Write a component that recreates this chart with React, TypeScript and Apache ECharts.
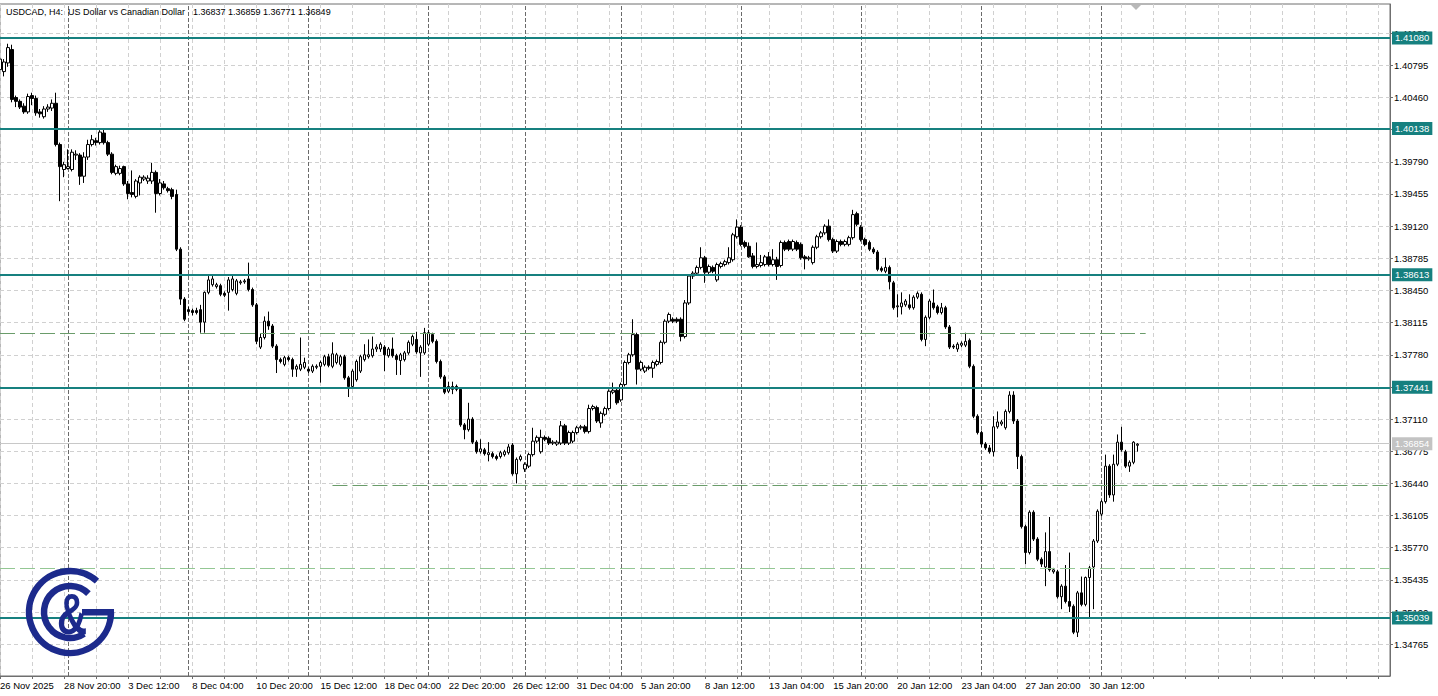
import React, { useEffect, useRef } from 'react';
import * as echarts from 'echarts';

const FONT = "'Liberation Sans', Arial, sans-serif";
const NAVY = '#1c2a8c';
const TEAL = '#16807f';

const timeLabels = [
  '26 Nov 2025', '28 Nov 20:00', '3 Dec 12:00', '8 Dec 04:00', '10 Dec 20:00', '15 Dec 12:00',
  '18 Dec 04:00', '22 Dec 20:00', '26 Dec 12:00', '31 Dec 04:00', '5 Jan 20:00', '8 Jan 12:00',
  '13 Jan 04:00', '15 Jan 20:00', '20 Jan 12:00', '23 Jan 04:00', '27 Jan 20:00', '30 Jan 12:00',
];
const barCount = 348;

const opens = [
  1.4075,1.4073,1.4082,1.4096,1.4046,1.4042,1.4037,1.4031,1.4048,1.4045,
  1.4031,1.4026,1.4034,1.4035,1.4040,1.3997,1.3971,1.3972,1.3971,1.3986,
  1.3986,1.3964,1.3984,1.3997,1.4001,1.3999,1.4009,1.3999,1.3987,1.3967,
  1.3967,1.3974,1.3956,1.3947,1.3943,1.3957,1.3961,1.3959,1.3959,1.3968,
  1.3946,1.3956,1.3951,1.3950,1.3945,1.3888,1.3836,1.3825,1.3824,1.3824,
  1.3825,1.3812,1.3843,1.3851,1.3849,1.3850,1.3842,1.3843,1.3846,1.3842,
  1.3853,1.3854,1.3857,1.3846,1.3830,1.3786,1.3796,1.3813,1.3808,1.3787,
  1.3773,1.3768,1.3775,1.3773,1.3763,1.3763,1.3765,1.3763,1.3761,1.3765,
  1.3766,1.3768,1.3776,1.3766,1.3770,1.3768,1.3776,1.3754,1.3745,1.3752,
  1.3761,1.3773,1.3776,1.3777,1.3784,1.3784,1.3786,1.3777,1.3784,1.3777,
  1.3772,1.3773,1.3780,1.3789,1.3794,1.3780,1.3780,1.3789,1.3799,1.3792,
  1.3771,1.3755,1.3740,1.3742,1.3745,1.3742,1.3705,1.3700,1.3711,1.3687,
  1.3677,1.3679,1.3674,1.3675,1.3672,1.3672,1.3674,1.3676,1.3684,1.3654,
  1.3669,1.3659,1.3662,1.3674,1.3688,1.3677,1.3692,1.3691,1.3686,1.3685,
  1.3686,1.3704,1.3686,1.3688,1.3697,1.3702,1.3703,1.3698,1.3722,1.3723,
  1.3707,1.3716,1.3722,1.3739,1.3741,1.3731,1.3747,1.3770,1.3778,1.3799,
  1.3763,1.3761,1.3765,1.3764,1.3768,1.3770,1.3791,1.3813,1.3815,1.3815,
  1.3815,1.3797,1.3832,1.3860,1.3863,1.3869,1.3879,1.3864,1.3869,1.3856,
  1.3870,1.3872,1.3874,1.3877,1.3901,1.3911,1.3895,1.3891,1.3881,1.3870,
  1.3871,1.3872,1.3880,1.3872,1.3877,1.3871,1.3895,1.3896,1.3888,1.3895,
  1.3893,1.3880,1.3878,1.3874,1.3890,1.3901,1.3905,1.3912,1.3898,1.3886,
  1.3896,1.3893,1.3893,1.3900,1.3925,1.3911,1.3898,1.3895,1.3888,1.3885,
  1.3868,1.3865,1.3869,1.3853,1.3828,1.3828,1.3830,1.3830,1.3827,1.3838,
  1.3841,1.3794,1.3817,1.3832,1.3828,1.3822,1.3827,1.3807,1.3787,1.3784,
  1.3788,1.3788,1.3793,1.3766,1.3714,1.3697,1.3685,1.3681,1.3677,1.3703,
  1.3706,1.3702,1.3719,1.3736,1.3709,1.3672,1.3599,1.3572,1.3614,1.3586,
  1.3565,1.3557,1.3573,1.3552,1.3552,1.3526,1.3537,1.3521,1.3516,1.3489,
  1.3530,1.3518,1.3546,1.3557,1.3584,1.3612,1.3625,1.3662,1.3632,1.3664,
  1.3687,1.3677,1.3662,1.3666,1.36837,
];

const closes = [
  1.4086,1.4083,1.4098,1.4044,1.4042,1.4036,1.4031,1.4047,1.4045,1.4030,
  1.4029,1.4034,1.4036,1.4040,1.3997,1.3974,1.3976,1.3974,1.3989,1.3987,
  1.3964,1.3984,1.3997,1.4002,1.3999,1.4010,1.3999,1.3987,1.3968,1.3974,
  1.3972,1.3956,1.3946,1.3945,1.3959,1.3963,1.3963,1.3962,1.3968,1.3946,
  1.3957,1.3952,1.3949,1.3943,1.3888,1.3836,1.3815,1.3823,1.3822,1.3822,
  1.3812,1.3843,1.3856,1.3857,1.3851,1.3841,1.3840,1.3856,1.3857,1.3855,
  1.3854,1.3855,1.3846,1.3830,1.3792,1.3796,1.3813,1.3808,1.3787,1.3773,
  1.3771,1.3775,1.3773,1.3763,1.3766,1.3768,1.3770,1.3761,1.3766,1.3766,
  1.3770,1.3776,1.3767,1.3779,1.3778,1.3776,1.3754,1.3745,1.3761,1.3771,
  1.3776,1.3778,1.3778,1.3784,1.3786,1.3789,1.3778,1.3784,1.3777,1.3773,
  1.3778,1.3780,1.3791,1.3797,1.3781,1.3786,1.3801,1.3801,1.3792,1.3771,
  1.3755,1.3739,1.3745,1.3745,1.3742,1.3705,1.3700,1.3711,1.3687,1.3677,
  1.3680,1.3675,1.3676,1.3672,1.3670,1.3676,1.3677,1.3682,1.3654,1.3669,
  1.3672,1.3664,1.3674,1.3688,1.3692,1.3692,1.3690,1.3686,1.3687,1.3687,
  1.3704,1.3686,1.3697,1.3697,1.3702,1.3703,1.3698,1.3722,1.3724,1.3709,
  1.3717,1.3722,1.3740,1.3741,1.3728,1.3747,1.3770,1.3778,1.3799,1.3763,
  1.3770,1.3765,1.3764,1.3770,1.3771,1.3791,1.3813,1.3820,1.3813,1.3813,
  1.3797,1.3832,1.3860,1.3863,1.3869,1.3879,1.3864,1.3870,1.3865,1.3872,
  1.3873,1.3875,1.3879,1.3903,1.3911,1.3893,1.3891,1.3880,1.3870,1.3872,
  1.3874,1.3880,1.3872,1.3877,1.3870,1.3895,1.3888,1.3888,1.3896,1.3888,
  1.3879,1.3878,1.3879,1.3890,1.3901,1.3905,1.3912,1.3898,1.3886,1.3896,
  1.3893,1.3896,1.3900,1.3924,1.3914,1.3898,1.3893,1.3888,1.3885,1.3867,
  1.3866,1.3869,1.3854,1.3827,1.3829,1.3832,1.3834,1.3827,1.3838,1.3842,
  1.3794,1.3817,1.3834,1.3827,1.3822,1.3827,1.3807,1.3786,1.3786,1.3789,
  1.3790,1.3792,1.3766,1.3714,1.3697,1.3685,1.3681,1.3677,1.3703,1.3708,
  1.3708,1.3719,1.3736,1.3709,1.3672,1.3599,1.3572,1.3614,1.3586,1.3565,
  1.3560,1.3573,1.3554,1.3554,1.3526,1.3537,1.3521,1.3516,1.3489,1.3530,
  1.3518,1.3546,1.3556,1.3584,1.3615,1.3625,1.3662,1.3632,1.3664,1.3687,
  1.3679,1.3662,1.3666,1.3687,1.36849,
];

const lows = [
  1.4070,1.4068,1.4078,1.4041,1.4036,1.4034,1.4029,1.4029,1.4038,1.4027,
  1.4025,1.4024,1.4031,1.4032,1.3995,1.3938,1.3963,1.3971,1.3969,1.3981,
  1.3955,1.3957,1.3981,1.3995,1.3996,1.3997,1.3997,1.3985,1.3966,1.3965,
  1.3965,1.3954,1.3940,1.3942,1.3941,1.3944,1.3959,1.3956,1.3956,1.3926,
  1.3944,1.3950,1.3947,1.3940,1.3886,1.3830,1.3813,1.3820,1.3819,1.3820,
  1.3801,1.3801,1.3841,1.3849,1.3847,1.3839,1.3838,1.3824,1.3844,1.3840,
  1.3851,1.3852,1.3844,1.3828,1.3789,1.3784,1.3794,1.3804,1.3785,1.3759,
  1.3769,1.3766,1.3771,1.3755,1.3755,1.3761,1.3763,1.3759,1.3759,1.3763,
  1.3749,1.3766,1.3765,1.3764,1.3768,1.3766,1.3752,1.3734,1.3743,1.3750,
  1.3759,1.3771,1.3774,1.3775,1.3781,1.3781,1.3761,1.3775,1.3775,1.3757,
  1.3757,1.3771,1.3778,1.3787,1.3779,1.3755,1.3778,1.3787,1.3790,1.3769,
  1.3753,1.3737,1.3738,1.3737,1.3740,1.3703,1.3690,1.3698,1.3685,1.3675,
  1.3675,1.3673,1.3667,1.3670,1.3668,1.3670,1.3672,1.3674,1.3652,1.3644,
  1.3667,1.3656,1.3660,1.3672,1.3686,1.3675,1.3688,1.3684,1.3684,1.3683,
  1.3684,1.3684,1.3684,1.3686,1.3695,1.3700,1.3696,1.3696,1.3720,1.3707,
  1.3702,1.3714,1.3720,1.3737,1.3726,1.3729,1.3745,1.3768,1.3776,1.3747,
  1.3761,1.3759,1.3762,1.3754,1.3766,1.3768,1.3789,1.3811,1.3811,1.3811,
  1.3792,1.3795,1.3830,1.3857,1.3861,1.3867,1.3853,1.3862,1.3863,1.3854,
  1.3868,1.3870,1.3872,1.3875,1.3899,1.3891,1.3889,1.3879,1.3868,1.3868,
  1.3869,1.3870,1.3870,1.3870,1.3856,1.3869,1.3886,1.3886,1.3886,1.3886,
  1.3877,1.3867,1.3876,1.3872,1.3888,1.3899,1.3903,1.3896,1.3884,1.3884,
  1.3891,1.3891,1.3891,1.3898,1.3912,1.3896,1.3891,1.3886,1.3883,1.3865,
  1.3864,1.3863,1.3846,1.3825,1.3817,1.3820,1.3828,1.3825,1.3825,1.3836,
  1.3792,1.3787,1.3815,1.3825,1.3820,1.3820,1.3805,1.3784,1.3784,1.3781,
  1.3786,1.3786,1.3764,1.3712,1.3695,1.3682,1.3679,1.3675,1.3672,1.3701,
  1.3704,1.3700,1.3717,1.3706,1.3659,1.3597,1.3560,1.3570,1.3584,1.3563,
  1.3557,1.3537,1.3552,1.3550,1.3524,1.3513,1.3519,1.3510,1.3487,1.3484,
  1.3516,1.3516,1.3504,1.3513,1.3582,1.3610,1.3623,1.3629,1.3625,1.3662,
  1.3677,1.3660,1.3656,1.3664,1.36771,
];

const highs = [
  1.4090,1.4086,1.4102,1.4101,1.4048,1.4044,1.4040,1.4050,1.4051,1.4048,
  1.4034,1.4037,1.4039,1.4044,1.4051,1.3999,1.3979,1.3992,1.3992,1.3991,
  1.3988,1.3989,1.4002,1.4007,1.4004,1.4012,1.4014,1.4001,1.3989,1.3976,
  1.3975,1.3975,1.3959,1.3970,1.3961,1.3965,1.3965,1.3965,1.3978,1.3970,
  1.3961,1.3959,1.3953,1.3952,1.3950,1.3890,1.3838,1.3828,1.3826,1.3827,
  1.3830,1.3844,1.3860,1.3860,1.3853,1.3852,1.3844,1.3859,1.3860,1.3857,
  1.3856,1.3857,1.3874,1.3848,1.3832,1.3800,1.3818,1.3823,1.3810,1.3789,
  1.3775,1.3777,1.3777,1.3775,1.3768,1.3796,1.3775,1.3765,1.3768,1.3768,
  1.3772,1.3778,1.3779,1.3791,1.3780,1.3778,1.3778,1.3756,1.3763,1.3773,
  1.3778,1.3789,1.3794,1.3797,1.3789,1.3791,1.3788,1.3786,1.3796,1.3779,
  1.3780,1.3782,1.3793,1.3799,1.3802,1.3788,1.3806,1.3804,1.3801,1.3794,
  1.3773,1.3757,1.3750,1.3750,1.3747,1.3744,1.3707,1.3728,1.3713,1.3689,
  1.3690,1.3681,1.3687,1.3677,1.3674,1.3678,1.3679,1.3685,1.3686,1.3671,
  1.3674,1.3666,1.3676,1.3702,1.3694,1.3700,1.3694,1.3693,1.3689,1.3689,
  1.3709,1.3706,1.3699,1.3699,1.3704,1.3705,1.3705,1.3726,1.3726,1.3725,
  1.3719,1.3724,1.3742,1.3749,1.3743,1.3749,1.3772,1.3780,1.3815,1.3801,
  1.3772,1.3767,1.3767,1.3772,1.3773,1.3793,1.3815,1.3822,1.3817,1.3817,
  1.3817,1.3835,1.3862,1.3865,1.3871,1.3890,1.3881,1.3872,1.3871,1.3874,
  1.3875,1.3877,1.3890,1.3905,1.3919,1.3913,1.3897,1.3895,1.3884,1.3895,
  1.3882,1.3882,1.3885,1.3888,1.3880,1.3897,1.3897,1.3898,1.3898,1.3897,
  1.3895,1.3882,1.3881,1.3892,1.3903,1.3907,1.3914,1.3919,1.3900,1.3898,
  1.3898,1.3898,1.3902,1.3929,1.3927,1.3913,1.3900,1.3897,1.3890,1.3887,
  1.3870,1.3879,1.3871,1.3855,1.3841,1.3843,1.3836,1.3841,1.3840,1.3844,
  1.3843,1.3819,1.3836,1.3846,1.3830,1.3832,1.3829,1.3809,1.3789,1.3791,
  1.3792,1.3801,1.3795,1.3768,1.3716,1.3699,1.3687,1.3684,1.3714,1.3719,
  1.3710,1.3721,1.3740,1.3740,1.3711,1.3674,1.3601,1.3616,1.3616,1.3588,
  1.3567,1.3593,1.3609,1.3556,1.3554,1.3539,1.3559,1.3572,1.3518,1.3532,
  1.3547,1.3547,1.3558,1.3586,1.3617,1.3627,1.3674,1.3664,1.3674,1.3695,
  1.3703,1.3679,1.3668,1.3688,1.36859,
];

const priceTicks = [
  1.34765, 1.351, 1.35435, 1.3577, 1.36105, 1.3644, 1.36775, 1.3711, 1.37445, 1.3778,
  1.38115, 1.3845, 1.38785, 1.3912, 1.39455, 1.3979, 1.40125, 1.4046, 1.40795, 1.4113,
];
const levelPrices = [1.4108, 1.40138, 1.38613, 1.37441, 1.35039];
const bidPrice = 1.36854;
const weekStartBars = [17, 47, 77, 107, 131, 155, 185, 215, 245, 275];
const zonePrices = [1.38007, 1.36424, 1.35559];
const zoneStartBars = [0, 83, 0];
const zoneEndBars = [286, 347, 347];
const zoneColors = ['#6a9c6a', '#6a9c6a', '#94c794'];

export default function App() {
  const ref = useRef<HTMLDivElement>(null);

  useEffect(() => {
    document.body.style.margin = '0';
    document.body.style.background = '#ffffff';
    const chart = echarts.init(ref.current as HTMLDivElement, null, { renderer: 'svg' });
    const categories = Array.from({ length: barCount }, (_, i) => String(i));
    const candles = opens.map((o, i) => [o, closes[i], lows[i], highs[i]]);

    const boxLabel = (text: string, bg: string) => ({
      show: true,
      position: 'end',
      distance: 2,
      formatter: text,
      backgroundColor: bg,
      color: '#ffffff',
      padding: [2, 3, 1, 3],
      fontSize: 9.5,
      fontFamily: FONT,
    });

    const gridLines: any[] = [];
    priceTicks.forEach((p) =>
      gridLines.push({ yAxis: p, lineStyle: { color: '#d0d0d0', type: [4, 3], width: 1 } })
    );
    weekStartBars.forEach((b) =>
      gridLines.push({ xAxis: b, lineStyle: { color: '#6a6a6a', type: [4, 2], width: 1 } })
    );
    gridLines.push({
      yAxis: bidPrice,
      lineStyle: { color: '#c8c8c8', type: 'solid', width: 1 },
    });

    const levelLines: any[] = levelPrices.map((p) => ({
      yAxis: p,
      lineStyle: { color: TEAL, width: 2, type: 'solid' },
      label: boxLabel(p.toFixed(5), TEAL),
    }));
    levelLines.push({
      yAxis: bidPrice,
      lineStyle: { color: 'rgba(0,0,0,0)', width: 1, type: 'solid' },
      label: boxLabel(bidPrice.toFixed(5), '#c3c3c3'),
    });
    zonePrices.forEach((p, i) => {
      levelLines.push([
        { coord: [zoneStartBars[i], p], lineStyle: { color: zoneColors[i], width: 1, type: [15, 5] } },
        { coord: [zoneEndBars[i], p] },
      ]);
    });

    const titleStyle = { fontSize: 9, fontFamily: FONT, fill: '#000', verticalAlign: 'top' };

    const option: any = {
      animation: false,
      backgroundColor: '#ffffff',
      tooltip: { show: false },
      grid: {
        left: 0, right: 48, top: 4, bottom: 20,
        containLabel: false,
        outerBoundsMode: 'none',
        show: true, borderColor: '#6f6f6f', borderWidth: 1, backgroundColor: '#ffffff',
      },
      xAxis: {
        type: 'category',
        data: categories,
        boundaryGap: false,
        axisLine: { lineStyle: { color: '#6f6f6f' } },
        axisTick: { show: true, interval: (i: number) => i % 8 === 0, length: 3, lineStyle: { color: '#6f6f6f' } },
        axisLabel: {
          interval: (i: number) => i % 16 === 0 && i / 16 < timeLabels.length,
          formatter: (_v: string, i: number) => timeLabels[i / 16] ?? '',
          align: 'left',
          margin: 4,
          fontSize: 9.5,
          color: '#000000',
          fontFamily: FONT,
        },
        splitLine: {
          show: true,
          interval: (i: number) => i % 8 === 0,
          lineStyle: { color: '#d0d0d0', type: [4, 3], width: 1 },
        },
      },
      yAxis: {
        type: 'value',
        position: 'right',
        min: 1.34434,
        max: 1.41434,
        scale: true,
        axisLine: { show: true, lineStyle: { color: '#6f6f6f' } },
        axisTick: { show: true, customValues: priceTicks, length: 3, lineStyle: { color: '#6f6f6f' } },
        axisLabel: {
          customValues: priceTicks,
          formatter: (v: number) => v.toFixed(5),
          margin: 4,
          fontSize: 9.5,
          color: '#000000',
          fontFamily: FONT,
        },
        splitLine: { show: false },
      },
      series: [
        {
          type: 'line',
          data: [],
          z: 1,
          silent: true,
          markLine: {
            silent: true,
            symbol: 'none',
            precision: 5,
            z: 1,
            animation: false,
            label: { show: false },
            emphasis: { disabled: true },
            data: gridLines,
          },
        },
        {
          type: 'candlestick',
          data: candles,
          barWidth: 3,
          z: 2,
          silent: true,
          itemStyle: {
            color: '#ffffff',
            color0: '#000000',
            borderColor: '#000000',
            borderColor0: '#000000',
            borderWidth: 1,
          },
        },
        {
          type: 'line',
          data: [],
          z: 5,
          clip: false,
          silent: true,
          markLine: {
            silent: true,
            symbol: 'none',
            precision: 5,
            z: 5,
            animation: false,
            label: { show: false },
            emphasis: { disabled: true },
            data: levelLines,
          },
        },
      ],
      graphic: [
        { type: 'text', x: 6, y: 7, z: 50, style: { text: 'USDCAD, H4:', ...titleStyle } },
        { type: 'text', x: 68, y: 7, z: 50, style: { text: 'US Dollar vs Canadian Dollar', ...titleStyle } },
        { type: 'text', x: 193, y: 7, z: 50, style: { text: '1.36837 1.36859 1.36771 1.36849', ...titleStyle } },
        { type: 'polygon', z: 50, shape: { points: [[1131, 5], [1141, 5], [1136, 10]] }, style: { fill: '#b8b8b8' } },
        {
          type: 'arc', z: 60,
          shape: { cx: 70, cy: 612, r: 41, startAngle: 0, endAngle: 5.43, clockwise: true },
          style: { stroke: NAVY, lineWidth: 6.5, fill: 'none' },
        },
        {
          type: 'arc', z: 60,
          shape: { cx: 70, cy: 612, r: 26, startAngle: 1.0, endAngle: 5.5, clockwise: true },
          style: { stroke: NAVY, lineWidth: 6.5, fill: 'none' },
        },
        { type: 'rect', z: 60, shape: { x: 82, y: 609, width: 32, height: 6.5 }, style: { fill: NAVY } },
        {
          type: 'text', z: 60, x: 72, y: 614, scaleX: 0.72,
          style: { text: '&', fontSize: 58, fontWeight: 'bold', fontFamily: FONT, fill: NAVY, align: 'center', verticalAlign: 'middle' },
        },
      ],
    };

    chart.setOption(option);
    return () => chart.dispose();
  }, []);

  return (
    <div
      ref={ref}
      style={{ position: 'relative', width: 1438, height: 696, background: '#ffffff' }}
    />
  );
}
